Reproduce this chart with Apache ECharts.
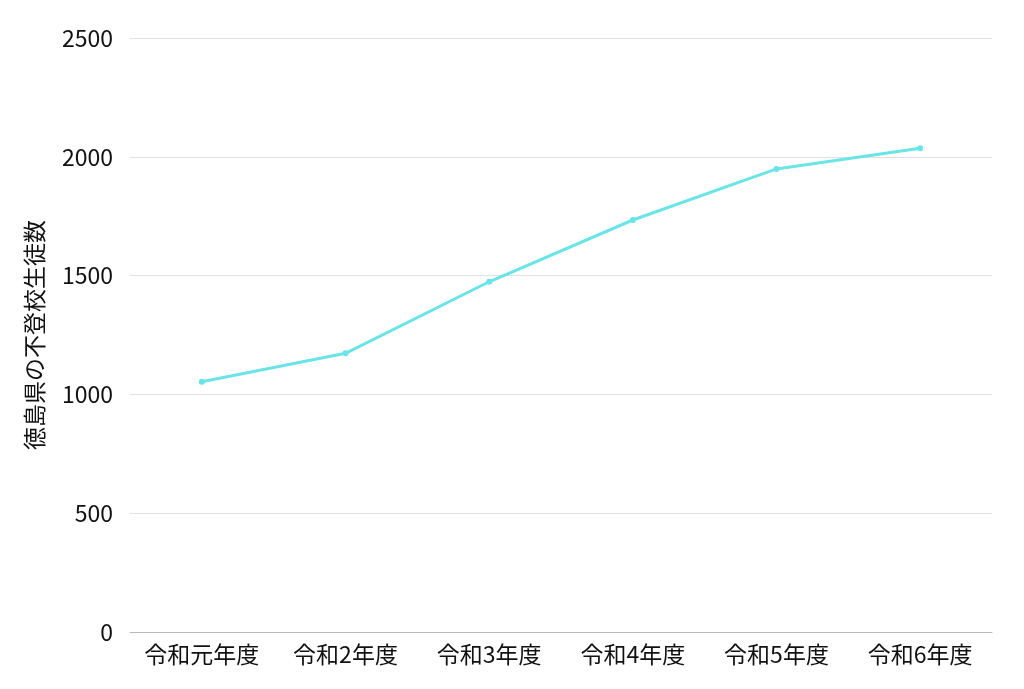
<!DOCTYPE html>
<html>
<head>
<meta charset="utf-8">
<script src="https://cdn.jsdelivr.net/npm/echarts@6/dist/echarts.min.js"></script>
<style>
  html, body { margin: 0; padding: 0; background: #fff; }
  #main { width: 1024px; height: 689px; }
</style>
</head>
<body>
<div id="main"></div>
<script>
// 年度と不登校生徒数
var years = ['令和元年度', '令和2年度', '令和3年度', '令和4年度', '令和5年度', '令和6年度'];
var students = [1053, 1173, 1474, 1734, 1949, 2036];
var yTicks = [0, 500, 1000, 1500, 2000, 2500];

var myChart = echarts.init(document.getElementById('main'));
var font = '"Noto Sans CJK JP", "Noto Sans", sans-serif';

var option = {
    textStyle: { fontFamily: font },
    grid: { left: 130, right: 32, top: 38, bottom: 57 },
    xAxis: {
        type: 'category',
        data: years,
        boundaryGap: true,
        axisLine: { lineStyle: { color: '#bbbbbb', width: 1 } },
        axisTick: { show: false },
        axisLabel: { color: '#111', fontSize: 23, margin: 11, interval: 0, fontFamily: font }
    },
    yAxis: {
        type: 'value',
        min: yTicks[0],
        max: yTicks[yTicks.length - 1],
        interval: 500,
        name: '徳島県の不登校生徒数',
        nameLocation: 'middle',
        nameGap: 84,
        nameRotate: 90,
        nameTextStyle: { color: '#111', fontSize: 23, fontFamily: font },
        axisLine: { show: false },
        axisTick: { show: false },
        axisLabel: {
            color: '#111', fontSize: 23, margin: 17, fontFamily: font,
            formatter: function (v) { return String(v); }
        },
        splitLine: { lineStyle: { color: '#e0e0e0', width: 1 } }
    },
    series: [{
        type: 'line',
        data: students,
        symbol: 'circle',
        symbolSize: 6,
        lineStyle: { color: '#6ae4e6', width: 3 },
        itemStyle: { color: '#6ae4e6' }
    }]
};
myChart.setOption(option);
</script>
</body>
</html>
